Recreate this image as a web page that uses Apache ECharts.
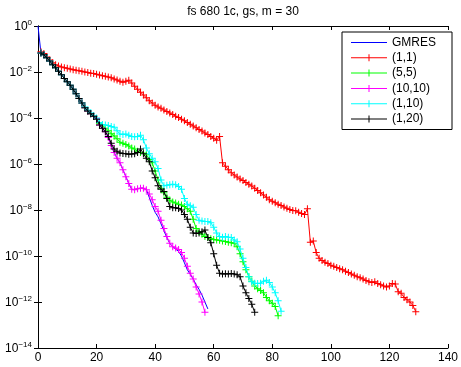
<!DOCTYPE html>
<html>
<head>
<meta charset="utf-8">
<script src="https://cdn.jsdelivr.net/npm/echarts@6/dist/echarts.min.js"></script>
<style>
html,body{margin:0;padding:0;background:#fff;}
#chart{width:461px;height:367px;}
</style>
</head>
<body>
<div id="chart"></div>
<script>
// ---------- data (log10 of relative residual, one value per iteration) ----------
const titleText = 'fs 680 1c, gs, m = 30';
const seriesNames = ['GMRES', '(1,1)', '(5,5)', '(10,10)', '(1,10)', '(1,20)'];
const seriesColors = ['#0000ff', '#ff0000', '#00ff00', '#ff00ff', '#00ffff', '#000000'];
const xTickStep = 20;
const xMin = 0, xMax = 140;
const yMinExp = -14, yMaxExp = 0, yTickStepExp = 2;

const gmresStart = 0;
const gmresLog10 = [0,
  -1.17,-1.25,-1.38,-1.52,-1.68,-1.82,-1.97,-2.12,-2.28,-2.42,
  -2.58,-2.75,-2.95,-3.15,-3.35,-3.55,-3.7,-3.82,-3.92,-4.02,
  -4.3,-4.45,-4.6,-4.85,-5.2,-5.5,-5.75,-5.95,-6.25,-6.55,
  -6.85,-7.1,-7.12,-7.08,-7.05,-7.05,-7.12,-7.45,-7.8,-8.1,
  -8.3,-8.6,-8.9,-9.2,-9.45,-9.6,-9.7,-9.8,-10.0,-10.3,
  -10.6,-10.8,-11.0,-11.25,-11.45,-11.7,-12.0,-12.3];

const p11Start = 1;
const p11Log10 = [
  -1.12,-1.2,-1.35,-1.48,-1.6,-1.68,-1.74,-1.78,-1.81,-1.84,
  -1.87,-1.9,-1.92,-1.95,-1.97,-2.0,-2.02,-2.05,-2.07,-2.1,
  -2.13,-2.16,-2.19,-2.22,-2.25,-2.3,-2.35,-2.4,-2.45,-2.4,
  -2.36,-2.48,-2.62,-2.75,-2.88,-3.0,-3.12,-3.25,-3.35,-3.45,
  -3.52,-3.58,-3.65,-3.72,-3.78,-3.85,-3.92,-3.98,-4.05,-4.12,
  -4.2,-4.27,-4.35,-4.42,-4.5,-4.57,-4.65,-4.72,-4.8,-4.88,
  -4.97,-4.8,-5.95,-6.1,-6.25,-6.38,-6.48,-6.57,-6.65,-6.72,
  -6.8,-6.88,-6.96,-7.05,-7.15,-7.25,-7.35,-7.45,-7.55,-7.62,
  -7.68,-7.75,-7.8,-7.87,-7.92,-7.98,-8.02,-8.03,-8.1,-8.15,
  -8.2,-7.95,-9.4,-9.35,-9.85,-10.1,-10.2,-10.27,-10.33,-10.4,
  -10.45,-10.5,-10.55,-10.6,-10.66,-10.72,-10.78,-10.84,-10.9,-10.95,
  -11.0,-11.06,-11.12,-11.15,-11.12,-11.2,-11.25,-11.3,-11.35,-11.3,
  -11.2,-11.22,-11.55,-11.62,-11.8,-11.9,-12.0,-12.15,-12.42];

const p55Start = 1;
const p55Log10 = [
  -1.17,-1.25,-1.38,-1.52,-1.68,-1.82,-1.97,-2.12,-2.28,-2.42,
  -2.58,-2.75,-2.95,-3.15,-3.35,-3.55,-3.7,-3.82,-3.92,-4.02,
  -4.25,-4.35,-4.45,-4.55,-4.68,-4.78,-4.9,-5.05,-5.1,-5.15,
  -5.22,-5.3,-5.35,-5.45,-5.5,-5.52,-5.6,-5.8,-5.95,-6.3,
  -6.7,-7.05,-7.25,-7.45,-7.58,-7.65,-7.7,-7.75,-7.78,-7.85,
  -7.95,-8.05,-8.4,-8.8,-8.95,-9.05,-9.15,-9.2,-9.25,-9.28,
  -9.3,-9.32,-9.35,-9.37,-9.4,-9.42,-9.45,-9.6,-9.9,-10.25,
  -10.6,-10.9,-11.1,-11.3,-11.42,-11.5,-11.6,-11.8,-11.95,-12.05,
  -12.2,-12.6];

const p1010Start = 1;
const p1010Log10 = [
  -1.17,-1.25,-1.38,-1.52,-1.68,-1.82,-1.97,-2.12,-2.28,-2.42,
  -2.58,-2.75,-2.95,-3.15,-3.35,-3.55,-3.7,-3.82,-3.92,-4.02,
  -4.3,-4.45,-4.6,-4.85,-5.2,-5.5,-5.75,-5.95,-6.25,-6.55,
  -6.85,-7.1,-7.12,-7.08,-7.05,-7.05,-7.12,-7.3,-7.55,-7.85,
  -8.05,-8.45,-8.8,-9.15,-9.45,-9.6,-9.65,-9.72,-9.85,-10.1,
  -10.45,-10.75,-11.0,-11.35,-11.65,-12.0,-12.45];

const p110Start = 1;
const p110Log10 = [
  -1.17,-1.25,-1.38,-1.52,-1.68,-1.82,-1.97,-2.12,-2.28,-2.42,
  -2.58,-2.75,-2.95,-3.15,-3.35,-3.52,-3.65,-3.78,-3.9,-4.0,
  -4.2,-4.28,-4.3,-4.33,-4.37,-4.4,-4.55,-4.7,-4.72,-4.7,
  -4.75,-4.8,-4.82,-4.8,-4.75,-4.95,-5.3,-5.55,-5.75,-5.9,
  -6.2,-6.7,-6.95,-6.92,-6.9,-6.88,-6.9,-6.98,-7.1,-7.5,
  -7.75,-7.82,-7.88,-8.2,-8.45,-8.48,-8.5,-8.5,-8.55,-8.75,
  -9.0,-9.15,-9.18,-9.15,-9.18,-9.2,-9.3,-9.38,-9.7,-10.1,
  -10.5,-10.9,-11.12,-11.18,-11.2,-11.18,-11.1,-11.05,-11.15,-11.35,
  -11.6,-11.95,-12.4];

const p120Start = 1;
const p120Log10 = [
  -1.17,-1.25,-1.38,-1.52,-1.68,-1.82,-1.97,-2.12,-2.28,-2.42,
  -2.58,-2.75,-2.95,-3.15,-3.35,-3.55,-3.7,-3.82,-3.92,-4.05,
  -4.3,-4.45,-4.6,-4.8,-5.1,-5.35,-5.45,-5.52,-5.54,-5.55,
  -5.58,-5.56,-5.55,-5.5,-5.35,-5.55,-5.75,-5.9,-6.3,-6.6,
  -6.95,-7.1,-7.2,-7.5,-7.85,-7.9,-7.9,-7.93,-8.0,-8.2,
  -8.4,-8.75,-9.0,-9.02,-9.0,-8.95,-8.87,-9.2,-9.42,-9.9,
  -10.4,-10.75,-10.78,-10.77,-10.78,-10.76,-10.78,-10.82,-10.9,-11.3,
  -11.6,-11.85,-12.1,-12.45];

const seriesStarts = [gmresStart, p11Start, p55Start, p1010Start, p110Start, p120Start];
const seriesLog10 = [gmresLog10, p11Log10, p55Log10, p1010Log10, p110Log10, p120Log10];

// ---------- chart ----------
const FONT = '"Liberation Sans", Arial, Helvetica, sans-serif';
const PLUS = 'path://M3,0H4V3H7V4H4V7H3V4H0V3H3Z';
// legend icons in a 36x9 box (tiny corner squares fix the bounding box so it is not stretched)
const LINE_ICON = 'path://M0,0H0.01V0.01H0ZM0,4H36V5H0ZM35.99,8.99H36V9H35.99Z';
const LINE_PLUS_ICON = 'path://M0,0H0.01V0.01H0ZM0,4H36V5H0ZM17.5,1H18.5V8H17.5ZM35.99,8.99H36V9H35.99Z';

function toPairs(start, arr) {
  return arr.map((e, i) => [start + i, Math.pow(10, e)]);
}

const series = seriesNames.map((name, k) => ({
  name: name,
  type: 'line',
  xAxisIndex: 0,
  yAxisIndex: 0,
  data: toPairs(seriesStarts[k], seriesLog10[k]),
  symbol: k === 0 ? 'none' : PLUS,
  symbolSize: 7,
  showSymbol: k !== 0,
  lineStyle: { color: seriesColors[k], width: 1 },
  itemStyle: { color: seriesColors[k], borderWidth: 0 },
  emphasis: { disabled: true },
  animation: false,
  z: 2 + k
}));

const legendData = seriesNames.map((name, k) => ({
  name: name,
  icon: k === 0 ? LINE_ICON : LINE_PLUS_ICON,
  itemStyle: { color: seriesColors[k], borderWidth: 0 }
}));

const axisLineStyle = { lineStyle: { color: '#000', width: 1 } };
const tickStyle = { show: true, inside: true, length: 4, lineStyle: { color: '#000', width: 1 } };

const option = {
  animation: false,
  backgroundColor: '#fff',
  textStyle: { fontFamily: FONT },
  title: {
    text: titleText,
    left: 243,
    textAlign: 'center',
    top: 6,
    padding: 0,
    textStyle: { fontFamily: FONT, fontSize: 12, fontWeight: 'normal', color: '#000' }
  },
  grid: { left: 38, right: 13, top: 26, bottom: 19, containLabel: false },
  legend: {
    data: legendData,
    orient: 'vertical',
    left: 342,
    top: 32,
    itemWidth: 36,
    itemHeight: 9,
    itemGap: 0.3,
    padding: [3, 16, 3, 9],
    borderColor: '#000',
    borderWidth: 1,
    backgroundColor: '#fff',
    selectedMode: false,
    textStyle: { fontFamily: FONT, fontSize: 12, color: '#000', lineHeight: 15 }
  },
  xAxis: [
    {
      type: 'value', position: 'bottom', min: xMin, max: xMax, interval: xTickStep,
      axisLine: axisLineStyle, axisTick: tickStyle, splitLine: { show: false },
      axisLabel: { color: '#000', fontSize: 12, fontFamily: FONT, margin: 4 }
    },
    {
      type: 'value', position: 'top', min: xMin, max: xMax, interval: xTickStep,
      axisLine: axisLineStyle, axisTick: tickStyle, splitLine: { show: false },
      axisLabel: { show: false }
    }
  ],
  yAxis: [
    {
      type: 'log', logBase: 10, position: 'left',
      min: Math.pow(10, yMinExp), max: Math.pow(10, yMaxExp), interval: yTickStepExp,
      axisLine: axisLineStyle, axisTick: tickStyle, splitLine: { show: false },
      minorTick: { show: false },
      axisLabel: {
        color: '#000', fontFamily: FONT, margin: 6,
        formatter: function (v) {
          const e = Math.round(Math.log10(v));
          return '{b|10}{s|' + (e < 0 ? '\u2212' + (-e) : e) + '}';
        },
        rich: {
          b: { fontSize: 12, fontFamily: FONT, color: '#000', lineHeight: 14, verticalAlign: 'bottom' },
          s: { fontSize: 8, fontFamily: FONT, color: '#000', lineHeight: 9, verticalAlign: 'top' }
        }
      }
    },
    {
      type: 'log', logBase: 10, position: 'right',
      min: Math.pow(10, yMinExp), max: Math.pow(10, yMaxExp), interval: yTickStepExp,
      axisLine: axisLineStyle, axisTick: tickStyle, splitLine: { show: false },
      minorTick: { show: false },
      axisLabel: { show: false }
    }
  ],
  series: series
};

const chart = echarts.init(document.getElementById('chart'), null, { renderer: 'canvas' });
chart.setOption(option);
</script>
</body>
</html>
